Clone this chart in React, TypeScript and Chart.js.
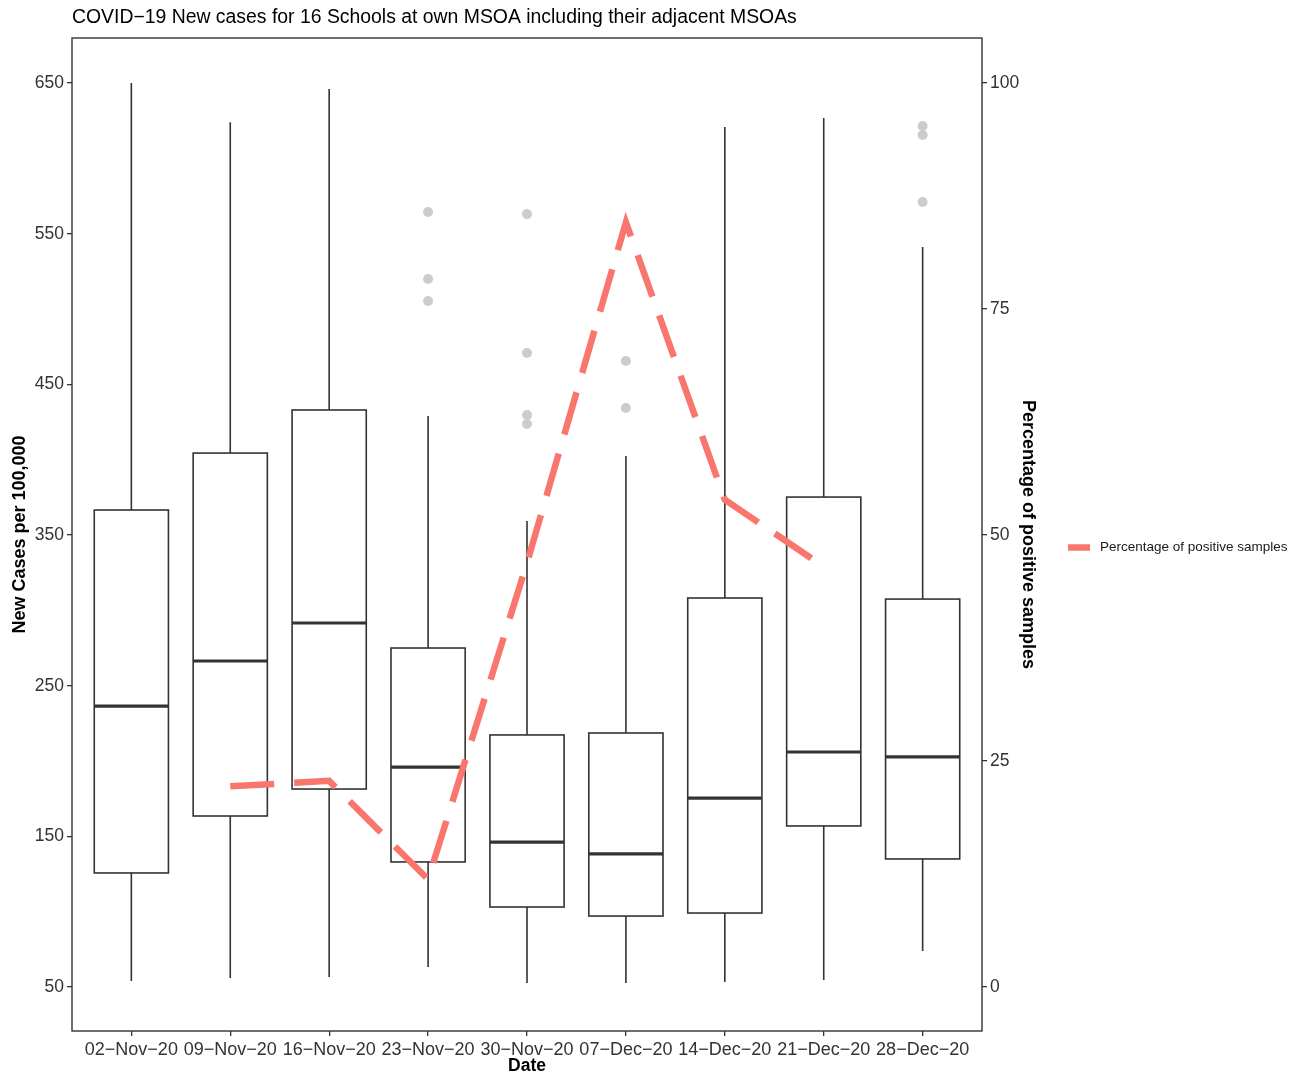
import { useEffect, useRef } from "react";
import { Chart, registerables } from "chart.js";

Chart.register(...registerables);

// week labels on the x axis
const dates = [
  "02−Nov−20", "09−Nov−20", "16−Nov−20", "23−Nov−20", "30−Nov−20",
  "07−Dec−20", "14−Dec−20", "21−Dec−20", "28−Dec−20",
];

// box plot stats, new cases per 100,000
const whiskerLow = [54, 56, 56.6, 63.3, 52.7, 52.7, 53.3, 54.6, 73.9];
const q1 = [125.7, 163.5, 181.4, 133, 103.1, 97.1, 99.1, 156.9, 135];
const median = [236.5, 266.4, 291.6, 196, 146.2, 138.3, 175.4, 206, 202.7];
const q3 = [366.6, 404.4, 433, 275, 217.3, 218.6, 308.2, 375.2, 307.5];
const whiskerHigh = [650, 624, 646, 429, 359.3, 402.4, 620.8, 626.8, 541.1];
const outliers = [
  [], [], [],
  [564.4, 519.9, 505.3],
  [563, 470.8, 429.6, 423.7],
  [465.5, 434.3],
  [], [],
  [621.5, 615.5, 571],
];

// percentage of positive samples (right axis)
const positivePct = [null, 22.2, 22.8, 11.9, 46.9, 84.6, 53.9, 46.5, null];

const leftTicks = [50, 150, 250, 350, 450, 550, 650];
const rightTicks = [0, 25, 50, 75, 100];

const FONT = "'Liberation Sans', Arial, Helvetica, sans-serif";
const lineColor = "#F8766D";

const boxPlugin = {
  id: "boxes",
  beforeDatasetsDraw(chart: any) {
    const ctx = chart.ctx;
    const x = chart.scales.x;
    const y = chart.scales.y;
    ctx.save();
    ctx.strokeStyle = "#333333";
    dates.forEach((_, i) => {
      const cx = x.getPixelForValue(i + 1);
      const l = x.getPixelForValue(i + 1 - 0.375);
      const r = x.getPixelForValue(i + 1 + 0.375);
      const yq1 = y.getPixelForValue(q1[i]);
      const yq3 = y.getPixelForValue(q3[i]);
      ctx.lineWidth = 1.6;
      ctx.beginPath();
      ctx.moveTo(cx, y.getPixelForValue(whiskerHigh[i]));
      ctx.lineTo(cx, yq3);
      ctx.moveTo(cx, yq1);
      ctx.lineTo(cx, y.getPixelForValue(whiskerLow[i]));
      ctx.stroke();
      ctx.fillStyle = "#ffffff";
      ctx.fillRect(l, yq3, r - l, yq1 - yq3);
      ctx.strokeRect(l, yq3, r - l, yq1 - yq3);
      ctx.lineWidth = 3.2;
      ctx.beginPath();
      const ym = y.getPixelForValue(median[i]);
      ctx.moveTo(l, ym);
      ctx.lineTo(r, ym);
      ctx.stroke();
    });
    ctx.restore();
  },
  afterDraw(chart: any) {
    const ctx = chart.ctx;
    const a = chart.chartArea;
    ctx.save();
    ctx.strokeStyle = "#333333";
    ctx.lineWidth = 1.4;
    ctx.strokeRect(a.left, a.top, a.right - a.left, a.bottom - a.top);

    ctx.fillStyle = "#000000";
    ctx.font = `19.4px ${FONT}`;
    ctx.textBaseline = "middle";
    ctx.textAlign = "left";
    ctx.fillText(
      "COVID−19 New cases for 16 Schools at own MSOA including their adjacent MSOAs",
      a.left,
      18
    );

    // legend
    const ly = (a.top + a.bottom) / 2 + 13;
    ctx.strokeStyle = lineColor;
    ctx.lineWidth = 6.5;
    ctx.beginPath();
    ctx.moveTo(1068, ly);
    ctx.lineTo(1090, ly);
    ctx.stroke();
    ctx.fillStyle = "#1a1a1a";
    ctx.font = `13.5px ${FONT}`;
    ctx.fillText("Percentage of positive samples", 1100, ly);
    ctx.restore();
  },
};

const App = () => {
  const canvasRef = useRef<HTMLCanvasElement | null>(null);
  const chartRef = useRef<Chart | null>(null);

  useEffect(() => {
    document.body.style.margin = "0";
    if (chartRef.current) chartRef.current.destroy();
    const ctx: any = canvasRef.current?.getContext("2d");

    const outlierPoints: { x: number; y: number }[] = [];
    outliers.forEach((list, i) => list.forEach((v) => outlierPoints.push({ x: i + 1, y: v })));

    const tickGrid = {
      display: true,
      drawOnChartArea: false,
      drawTicks: true,
      tickLength: 5,
      color: "#333333",
      lineWidth: 1.3,
    };

    chartRef.current = new Chart(ctx, {
      type: "scatter",
      data: {
        datasets: [
          {
            type: "scatter",
            data: outlierPoints,
            yAxisID: "y",
            pointRadius: 5,
            pointBackgroundColor: "#cccccc",
            pointBorderWidth: 0,
          } as any,
          {
            type: "line",
            data: positivePct.map((v, i) => ({ x: i + 1, y: v })),
            yAxisID: "y2",
            borderColor: lineColor,
            borderWidth: 6.5,
            borderDash: [44, 20],
            pointRadius: 0,
            spanGaps: false,
            fill: false,
          } as any,
        ],
      },
      options: {
        responsive: false,
        devicePixelRatio: 1,
        animation: false,
        layout: { padding: { top: 38, left: 0, right: 261, bottom: 0 } },
        plugins: { legend: { display: false }, tooltip: { enabled: false } },
        scales: {
          x: {
            type: "linear",
            min: 0.4,
            max: 9.6,
            afterBuildTicks: (s: any) => {
              s.ticks = dates.map((_, i) => ({ value: i + 1 }));
            },
            afterFit: (s: any) => {
              s.height = 43;
            },
            ticks: {
              autoSkip: false,
              maxRotation: 0,
              color: "#333333",
              font: { family: FONT, size: 18 },
              callback: (v: any) => dates[Math.round(v) - 1],
            },
            grid: tickGrid,
            border: { display: false },
            title: {
              display: true,
              text: "Date",
              color: "#000000",
              font: { family: FONT, size: 17.5, weight: "bold", lineHeight: 1 },
              padding: { top: 0, bottom: -1 },
            },
          },
          y: {
            type: "linear",
            position: "left",
            min: 20.8,
            max: 679.9,
            afterBuildTicks: (s: any) => {
              s.ticks = leftTicks.map((v) => ({ value: v }));
            },
            afterFit: (s: any) => {
              s.width = 72;
            },
            ticks: { color: "#333333", font: { family: FONT, size: 17.5 } },
            grid: tickGrid,
            border: { display: false },
            title: {
              display: true,
              text: "New Cases per 100,000",
              color: "#000000",
              font: { family: FONT, size: 18, weight: "bold" },
              padding: { top: 9, bottom: 0 },
            },
          },
          y2: {
            type: "linear",
            position: "right",
            min: -4.87,
            max: 104.98,
            afterBuildTicks: (s: any) => {
              s.ticks = rightTicks.map((v) => ({ value: v }));
            },
            afterFit: (s: any) => {
              s.width = 60;
            },
            ticks: { color: "#333333", font: { family: FONT, size: 17.5 } },
            grid: tickGrid,
            border: { display: false },
            title: {
              display: true,
              text: "Percentage of positive samples",
              color: "#000000",
              font: { family: FONT, size: 18, weight: "bold" },
              padding: { top: 3, bottom: 0 },
            },
          },
        },
      },
      plugins: [boxPlugin],
    } as any);

    return () => {
      if (chartRef.current) {
        chartRef.current.destroy();
        chartRef.current = null;
      }
    };
  }, []);

  return (
    <div>
      <canvas ref={canvasRef} width={1303} height={1074} style={{ width: "1303px", height: "1074px", display: "block" }}></canvas>
    </div>
  );
};

export default App;
